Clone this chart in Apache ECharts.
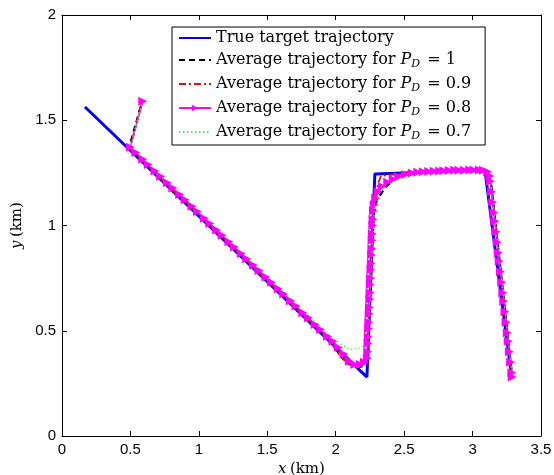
<!DOCTYPE html>
<html>
<head>
<meta charset="utf-8">
<script src="https://cdn.jsdelivr.net/npm/echarts@6/dist/echarts.min.js"></script>
<style>
  html, body { margin: 0; padding: 0; background: #fff; }
  #chart { width: 554px; height: 475px; }
</style>
</head>
<body>
<div id="chart"></div>
<script>
// x/y 轴刻度
const xTicks = [0, 0.5, 1, 1.5, 2, 2.5, 3, 3.5];
const yTicks = [0, 0.5, 1, 1.5, 2];

// 真实轨迹 (km)
const trueTrack = [
    [0.168, 1.563], [2.228, 0.280], [2.286, 1.245], [3.090, 1.264], [3.287, 0.276]
];

// P_D = 1
const avgPd1 = [
    [0.575, 1.565], [0.49, 1.37], [1.96, 0.455], [2.03, 0.385], [2.09, 0.345], [2.16, 0.325],
    [2.21, 0.335], [2.235, 0.38], [2.26, 0.80], [2.275, 1.05], [2.30, 1.12], [2.36, 1.18],
    [2.43, 1.222], [2.55, 1.248], [2.70, 1.258], [3.08, 1.265], [3.115, 1.245], [3.135, 1.205],
    [3.29, 0.28]
];

// P_D = 0.9
const avgPd09 = [
    [0.585, 1.585], [0.495, 1.365], [1.96, 0.45], [2.03, 0.38], [2.09, 0.345], [2.15, 0.33],
    [2.21, 0.34], [2.235, 0.39], [2.26, 0.80], [2.28, 1.10], [2.31, 1.20], [2.33, 1.235],
    [2.45, 1.245], [2.60, 1.255], [3.08, 1.265], [3.115, 1.245], [3.135, 1.205], [3.29, 0.28]
];

// P_D = 0.8 (带标记)
const avgPd08 = [
    [0.59, 1.59], [0.50, 1.372], [0.54, 1.347], [0.59, 1.315], [0.63, 1.290], [0.68, 1.259],
    [0.72, 1.234], [0.77, 1.203], [0.81, 1.178], [0.86, 1.147], [0.90, 1.122], [0.95, 1.091],
    [0.99, 1.066], [1.04, 1.035], [1.08, 1.010], [1.13, 0.979], [1.17, 0.954], [1.22, 0.923],
    [1.26, 0.898], [1.31, 0.867], [1.35, 0.842], [1.40, 0.811], [1.44, 0.786], [1.49, 0.755],
    [1.53, 0.730], [1.58, 0.699], [1.62, 0.674], [1.67, 0.643], [1.71, 0.618], [1.76, 0.586],
    [1.80, 0.562], [1.85, 0.530], [1.89, 0.506], [1.94, 0.474], [1.98, 0.450],
    [2.02, 0.42], [2.06, 0.39], [2.10, 0.355], [2.14, 0.34], [2.18, 0.34], [2.21, 0.35],
    [2.232, 0.37], [2.234, 0.40], [2.236, 0.44], [2.238, 0.47], [2.240, 0.51], [2.242, 0.54],
    [2.245, 0.58], [2.247, 0.61], [2.249, 0.65], [2.251, 0.68], [2.253, 0.72], [2.255, 0.75],
    [2.258, 0.79], [2.260, 0.82], [2.262, 0.86], [2.264, 0.89], [2.266, 0.93], [2.268, 0.96],
    [2.271, 1.00], [2.273, 1.03], [2.276, 1.07], [2.282, 1.10], [2.292, 1.13],
    [2.31, 1.16], [2.34, 1.185], [2.38, 1.205], [2.42, 1.22], [2.46, 1.232], [2.51, 1.242],
    [2.56, 1.249], [2.60, 1.253], [2.64, 1.255], [2.68, 1.257], [2.72, 1.258], [2.76, 1.259],
    [2.79, 1.260], [2.83, 1.261], [2.87, 1.262], [2.90, 1.262], [2.94, 1.263], [2.98, 1.264],
    [3.01, 1.264], [3.05, 1.264], [3.08, 1.262], [3.11, 1.255], [3.125, 1.235], [3.13, 1.21],
    [3.139, 1.16], [3.147, 1.11], [3.156, 1.06], [3.163, 1.02], [3.171, 0.97], [3.180, 0.92],
    [3.188, 0.87], [3.195, 0.83], [3.204, 0.78], [3.213, 0.73], [3.221, 0.68], [3.228, 0.64],
    [3.237, 0.59], [3.245, 0.54], [3.254, 0.49], [3.261, 0.45], [3.269, 0.40], [3.278, 0.35],
    [3.287, 0.30], [3.29, 0.28]
];

// P_D = 0.7
const avgPd07 = [
    [0.58, 1.575], [0.50, 1.37], [1.96, 0.475], [2.03, 0.44], [2.10, 0.41], [2.18, 0.418],
    [2.21, 0.43], [2.235, 0.50], [2.26, 0.80], [2.285, 1.08], [2.32, 1.165], [2.38, 1.205],
    [2.46, 1.232], [2.56, 1.25], [2.70, 1.258], [3.08, 1.265], [3.12, 1.235], [3.135, 1.20],
    [3.29, 0.28]
];

const seriesNames = [
    'True target trajectory',
    'Average trajectory for P_D = 1',
    'Average trajectory for P_D = 0.9',
    'Average trajectory for P_D = 0.8',
    'Average trajectory for P_D = 0.7'
];

const chart = echarts.init(document.getElementById('chart'));

const serif = 'DejaVu Serif';
const sans = 'Liberation Sans';

function legendLabel(name) {
    const m = name.match(/^(.*)P_D = (.*)$/);
    if (!m) return '{t|' + name + '}';
    return '{t|' + m[1] + '}{i|P}{s|D}{t| = ' + m[2] + '}';
}

// 图例：除 P_D=0.8 外不显示符号
const legendData = seriesNames.map(function (name, index) {
    if (index === 3) return { name: name };
    return { name: name, itemStyle: { opacity: 0 } };
});

const axisCommon = {
    type: 'value',
    axisLine: { show: true, onZero: false, lineStyle: { color: '#000', width: 1 } },
    axisTick: { show: true, inside: true, length: 5, lineStyle: { color: '#000' } },
    splitLine: { show: false }
};

const option = {
    animation: false,
    backgroundColor: '#fff',
    grid: { left: 62, right: 13, top: 15, bottom: 39, show: false, containLabel: false, outerBoundsMode: 'none' },
    legend: {
        orient: 'vertical',
        left: 172,
        top: 27,
        align: 'left',
        data: legendData,
        itemWidth: 32,
        itemHeight: 8,
        itemGap: 6,
        padding: [3, 14, 3, 6],
        borderColor: '#000',
        borderWidth: 1,
        backgroundColor: '#fff',
        formatter: legendLabel,
        textStyle: {
            rich: {
                t: { fontFamily: serif, fontSize: 16, color: '#000', lineHeight: 20 },
                i: { fontFamily: serif, fontStyle: 'italic', fontSize: 16, color: '#000', lineHeight: 20 },
                s: { fontFamily: serif, fontStyle: 'italic', fontSize: 11, color: '#000', verticalAlign: 'bottom', lineHeight: 12, padding: [0, 2, 0, 0] }
            }
        }
    },
    xAxis: [
        Object.assign({}, axisCommon, {
            min: 0, max: 3.5, interval: 0.5,
            position: 'bottom',
            name: '{i|x} {r|(km)}',
            nameLocation: 'middle',
            nameGap: 23,
            nameTextStyle: {
                rich: {
                    i: { fontFamily: serif, fontStyle: 'italic', fontSize: 15, color: '#000' },
                    r: { fontFamily: serif, fontSize: 15, color: '#000' }
                }
            },
            axisLabel: { fontFamily: sans, fontSize: 15, color: '#000', margin: 6,
                formatter: function (v) { return String(v); } }
        }),
        Object.assign({}, axisCommon, {
            min: 0, max: 3.5, interval: 0.5,
            position: 'top',
            axisLabel: { show: false }
        })
    ],
    yAxis: [
        Object.assign({}, axisCommon, {
            min: 0, max: 2, interval: 0.5,
            position: 'left',
            name: '{i|y} {r|(km)}',
            nameLocation: 'middle',
            nameGap: 33,
            nameTextStyle: {
                rich: {
                    i: { fontFamily: serif, fontStyle: 'italic', fontSize: 15, color: '#000' },
                    r: { fontFamily: serif, fontSize: 15, color: '#000' }
                }
            },
            axisLabel: { fontFamily: sans, fontSize: 15, color: '#000', margin: 6,
                formatter: function (v) { return String(v); } }
        }),
        Object.assign({}, axisCommon, {
            min: 0, max: 2, interval: 0.5,
            position: 'right',
            axisLabel: { show: false }
        })
    ],
    series: [
        {
            name: seriesNames[0], type: 'line', data: trueTrack,
            symbol: 'none',
            lineStyle: { color: '#0000ff', width: 3 },
            itemStyle: { color: '#0000ff' }
        },
        {
            name: seriesNames[1], type: 'line', data: avgPd1,
            symbol: 'none',
            lineStyle: { color: '#000', width: 2.2, type: [6, 4] },
            itemStyle: { color: '#000' }
        },
        {
            name: seriesNames[2], type: 'line', data: avgPd09,
            symbol: 'none',
            lineStyle: { color: '#ff0000', width: 1.8, type: [7, 3, 2, 3] },
            itemStyle: { color: '#ff0000' }
        },
        {
            name: seriesNames[3], type: 'line', data: avgPd08,
            symbol: 'triangle', symbolSize: 9, symbolRotate: -90,
            lineStyle: { color: '#ff00ff', width: 1.5 },
            itemStyle: { color: '#ff00ff' }
        },
        {
            name: seriesNames[4], type: 'line', data: avgPd07,
            symbol: 'none',
            lineStyle: { color: '#33ff33', width: 1.2, type: [1.5, 2.5] },
            itemStyle: { color: '#33ff33' }
        }
    ]
};

chart.setOption(option);
</script>
</body>
</html>
